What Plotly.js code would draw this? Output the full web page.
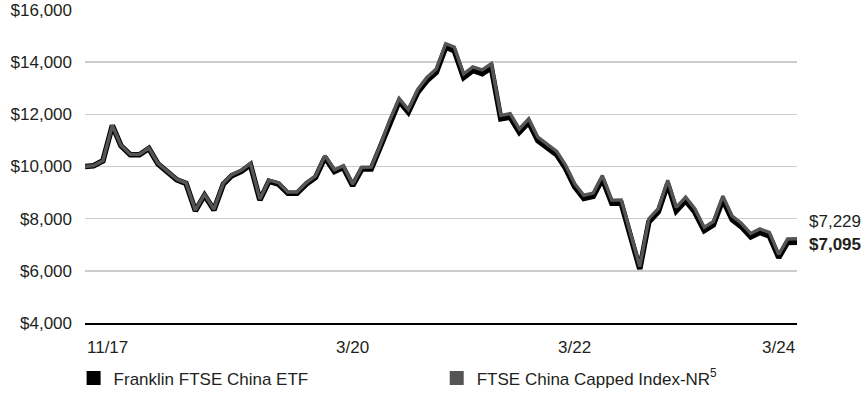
<!DOCTYPE html>
<html>
<head>
<meta charset="utf-8">
<script src="https://cdn.plot.ly/plotly-3.0.1.min.js"></script>
<style>
  html, body { margin: 0; padding: 0; background: #ffffff; }
  #chart { width: 866px; height: 405px; }
</style>
</head>
<body>
<div id="chart"></div>
<script>
// Growth of a hypothetical $10,000 investment, inception through 3/31/2024
const periods = [
  "2017-11-02","2017-11-30","2017-12-31",
  "2018-01-31","2018-02-28","2018-03-31","2018-04-30","2018-05-31","2018-06-30",
  "2018-07-31","2018-08-31","2018-09-30","2018-10-31","2018-11-30","2018-12-31",
  "2019-01-31","2019-02-28","2019-03-31","2019-04-30","2019-05-31","2019-06-30",
  "2019-07-31","2019-08-31","2019-09-30","2019-10-31","2019-11-30","2019-12-31",
  "2020-01-31","2020-02-29","2020-03-31","2020-04-30","2020-05-31","2020-06-30",
  "2020-07-31","2020-08-31","2020-09-30","2020-10-31","2020-11-30","2020-12-31",
  "2021-01-31","2021-02-28","2021-03-31","2021-04-30","2021-05-31","2021-06-30",
  "2021-07-31","2021-08-31","2021-09-30","2021-10-31","2021-11-30","2021-12-31",
  "2022-01-31","2022-02-28","2022-03-31","2022-04-30","2022-05-31","2022-06-30",
  "2022-07-31","2022-08-31","2022-09-30","2022-10-31","2022-11-30","2022-12-31",
  "2023-01-31","2023-02-28","2023-03-31","2023-04-30","2023-05-31","2023-06-30",
  "2023-07-31","2023-08-31","2023-09-30","2023-10-31","2023-11-30","2023-12-31",
  "2024-01-31","2024-02-29","2024-03-31"
];

const fundName = "Franklin FTSE China ETF";
const fundValues = [
  10000, 10030, 10220,
  11570, 10800, 10450, 10450, 10690, 10100, 9800, 9490, 9350, 8300, 8900, 8330,
  9330, 9650, 9810, 10070, 8710, 9430, 9330, 8970, 8970, 9330, 9580, 10350,
  9810, 9960, 9260, 9900, 9900, 10730, 11690, 12500, 12080, 12840, 13290, 13610,
  14570, 14440, 13410, 13680, 13560, 13790, 11830, 11890, 11310, 11690, 10990, 10720,
  10450, 9950, 9220, 8780, 8860, 9520, 8590, 8590, 7340, 6070, 7880, 8260,
  9330, 8300, 8690, 8250, 7540, 7760, 8720, 7960, 7690, 7300, 7470, 7340,
  6510, 7090, 7095
];

const indexName = "FTSE China Capped Index-NR<sup>5</sup>";
const indexValues = [
  10000, 10032, 10225,
  11579, 10811, 10463, 10465, 10708, 10120, 9822, 9513, 9375, 8325, 8929, 8359,
  9365, 9688, 9851, 10115, 8751, 9477, 9378, 9019, 9021, 9385, 9639, 10416,
  9875, 10029, 9326, 9973, 9976, 10815, 11785, 12605, 12184, 12954, 13411, 13738,
  14710, 14583, 13546, 13822, 13704, 13940, 11962, 12025, 11441, 11829, 11123, 10852,
  10582, 10078, 9341, 8897, 8980, 9652, 8711, 8713, 7447, 6160, 7999, 8386,
  9475, 8431, 8830, 8384, 7665, 7890, 8869, 8098, 7825, 7430, 7605, 7474,
  6631, 7223, 7229
];

// x-axis labels: [date, text, anchor]
const xLabels = [
  ["2017-11-02", "11/17", "left"],
  ["2020-03-31", "3/20", "center"],
  ["2022-03-31", "3/22", "center"],
  ["2024-03-31", "3/24", "right"]
];

const yTicks = [4000, 6000, 8000, 10000, 12000, 14000, 16000];
const yTickText = yTicks.map(v => "$" + v.toLocaleString("en-US"));

const fundColor = "#000000";
const indexColor = "#555555";
const textColor = "#231f20";
const font = "Liberation Sans, Arial, sans-serif";
const fontSize = 17;

const traces = [
  { x: periods, y: fundValues, type: "scatter", mode: "lines", name: fundName,
    line: { color: fundColor, width: 5.5, shape: "linear" }, showlegend: false, hoverinfo: "skip" },
  { x: periods, y: indexValues, type: "scatter", mode: "lines", name: indexName,
    line: { color: indexColor, width: 3.4, shape: "linear" }, showlegend: false, hoverinfo: "skip" },
  // legend keys, one legend per entry
  { x: [null], y: [null], type: "scatter", mode: "markers", name: fundName, legend: "legend",
    marker: { symbol: "square", size: 14, color: fundColor } },
  { x: [null], y: [null], type: "scatter", mode: "markers", name: indexName, legend: "legend2",
    marker: { symbol: "square", size: 14, color: indexColor } }
];

const last = periods.length - 1;
const annotations = xLabels.map(l => ({
  x: l[0], y: 0, xref: "x", yref: "paper", text: l[1],
  xanchor: l[2], yanchor: "middle", yshift: -24, showarrow: false,
  font: { family: font, size: fontSize, color: textColor }
}));
annotations.push({
  x: periods[last], y: indexValues[last], xref: "x", yref: "y",
  text: "$" + indexValues[last].toLocaleString("en-US"),
  xanchor: "left", yanchor: "middle", xshift: 10, yshift: 17, showarrow: false,
  font: { family: font, size: fontSize, color: textColor }
});
annotations.push({
  x: periods[last], y: fundValues[last], xref: "x", yref: "y",
  text: "<b>$" + fundValues[last].toLocaleString("en-US") + "</b>",
  xanchor: "left", yanchor: "middle", xshift: 10, yshift: -2, showarrow: false,
  font: { family: font, size: fontSize, color: textColor }
});

const legendBase = {
  orientation: "h", xanchor: "left", y: -0.177, yanchor: "middle",
  itemclick: false, bgcolor: "rgba(0,0,0,0)",
  font: { family: font, size: fontSize, color: textColor }
};

const layout = {
  width: 866, height: 405,
  margin: { l: 85, r: 69, t: 10, b: 82, pad: 0, autoexpand: false },
  paper_bgcolor: "#ffffff", plot_bgcolor: "#ffffff",
  font: { family: font, size: fontSize, color: textColor },
  xaxis: {
    type: "date", range: [periods[0], periods[last]],
    showgrid: false, zeroline: false, showticklabels: false, ticks: "",
    showline: true, linecolor: "#000000", linewidth: 1.5, fixedrange: true
  },
  yaxis: {
    range: [4000, 16000], tickmode: "array", tickvals: yTicks, ticktext: yTickText,
    showgrid: true, gridcolor: "#cccccc", gridwidth: 1.5, zeroline: false,
    showline: false, ticks: "", ticklabelstandoff: 12,
    tickfont: { family: font, size: fontSize, color: textColor }, fixedrange: true
  },
  legend: Object.assign({}, legendBase, { x: -0.016 }),
  legend2: Object.assign({}, legendBase, { x: 0.494 }),
  annotations: annotations,
  showlegend: true
};

Plotly.newPlot("chart", traces, layout, { displayModeBar: false, staticPlot: true });
</script>
</body>
</html>
